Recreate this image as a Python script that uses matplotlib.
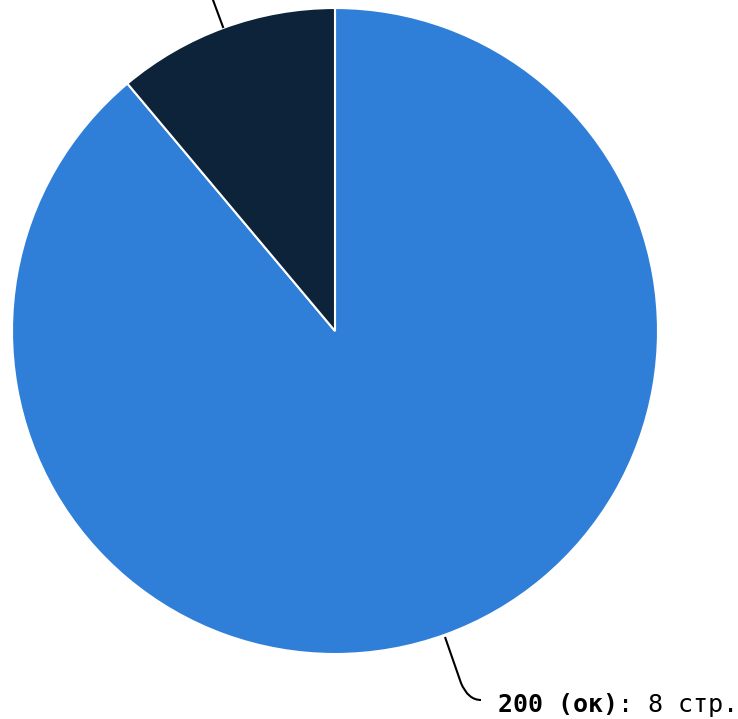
import matplotlib
matplotlib.use("Agg")
import matplotlib.pyplot as plt
from matplotlib.path import Path
from matplotlib.patches import PathPatch

# data
codes = ["200 (ок)", "other"]
pages = [8, 1]
colors = ["#2f7ed8", "#0d233a"]
unit = "стр."

W, H = 738, 719
cx, cy = 335, 331   # pie centre in pixels (from top-left)
R = 323


def px(x, y):
    """pixel (from top-left) -> data coords centred on the pie"""
    return x - cx, cy - y


fig = plt.figure(figsize=(W / 100, H / 100), dpi=100)
ax = fig.add_axes([0, 0, 1, 1])
ax.set_xlim(-cx, W - cx)
ax.set_ylim(-(H - cy), cy)
ax.set_aspect("equal")
ax.axis("off")

ax.pie(pages, colors=colors, radius=R, startangle=90, counterclock=False,
       wedgeprops=dict(edgecolor="white", linewidth=1.5))
ax.set_xlim(-cx, W - cx)
ax.set_ylim(-(H - cy), cy)

# connector for the big slice
p0 = px(445, 637)
p1 = px(461, 683)
pc = px(468, 700)
p2 = px(481, 700)
path = Path([p0, p1, pc, p2], [Path.MOVETO, Path.LINETO, Path.CURVE3, Path.CURVE3])
ax.add_patch(PathPatch(path, fill=False, edgecolor="#000000", linewidth=1.5))

# connector for the small slice (label sits above the visible area)
q0 = px(223, 27)
q1 = px(203, -27)
ax.plot([q0[0], q1[0]], [q0[1], q1[1]], color="#000000", linewidth=1.5)

tx, ty = px(498, 712)
t1 = ax.text(tx, ty, codes[0], family="DejaVu Sans Mono", fontsize=18,
             fontweight="bold", color="#000000", va="baseline", ha="left")
ax.annotate(f": {pages[0]} {unit}", xy=(1, 0), xycoords=t1,
            family="DejaVu Sans Mono", fontsize=18, color="#000000",
            va="bottom", ha="left")

fig.savefig("out.png", dpi=100)
